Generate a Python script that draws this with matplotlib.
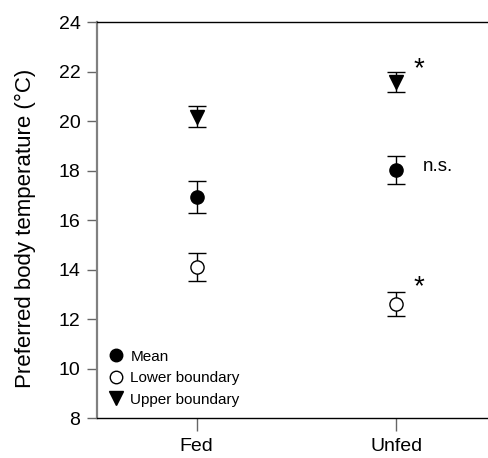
import matplotlib
matplotlib.use("Agg")
import matplotlib.pyplot as plt
from matplotlib.lines import Line2D

plt.rcParams['font.family'] = ['Liberation Sans', 'DejaVu Sans']

groups = ["Fed", "Unfed"]
mean_vals = [16.94, 18.02]
mean_err = [0.65, 0.56]
lower_vals = [14.11, 12.63]
lower_err = [0.55, 0.49]
upper_vals = [20.19, 21.59]
upper_err = [0.43, 0.39]
series_labels = ["Mean", "Lower boundary", "Upper boundary"]
yticks = [8, 10, 12, 14, 16, 18, 20, 22, 24]

W, H = 489, 458
fig = plt.figure(figsize=(W / 100, H / 100), dpi=100)
left, right = 96.7, 496.0
bottom, top = H - 418.3, H - 22.3
ax = fig.add_axes([left / W, bottom / H, (right - left) / W, (top - bottom) / H])

x = [1, 2]
cap = 6.5
common = dict(ecolor='black', elinewidth=1.0, capsize=cap, capthick=1.0, linestyle='none',
              markeredgecolor='black', markeredgewidth=1.0, zorder=3)
ax.errorbar(x, upper_vals, yerr=upper_err, fmt='v', markersize=10, markerfacecolor='black', **common)
ax.errorbar(x, mean_vals, yerr=mean_err, fmt='o', markersize=9.5, markerfacecolor='black', **common)
ax.errorbar(x, lower_vals, yerr=lower_err, fmt='o', markersize=9.5, markerfacecolor='white', **common)

ax.set_xlim(0.5, 2.5)
ax.set_ylim(8, 24)
ax.set_xticks(x)
ax.set_xticklabels(groups)
ax.set_yticks(yticks)
ax.set_yticklabels([str(t) for t in yticks])
ax.tick_params(axis='both', direction='out', length=7.2, width=1.0, color='#666666',
               labelsize=14, pad=4.5)
ax.tick_params(axis='x', length=9, pad=5)

ax.spines['right'].set_visible(False)
ax.spines['left'].set_color('#808080')
ax.spines['left'].set_linewidth(1.6)
ax.spines['bottom'].set_color('black')
ax.spines['top'].set_color('black')
ax.spines['bottom'].set_linewidth(1.0)
ax.spines['top'].set_linewidth(1.0)

ax.set_ylabel("Preferred body temperature (°C)", fontsize=16)
ax.yaxis.set_label_coords(-0.152, 0.48)

handles = [
    Line2D([], [], marker='o', linestyle='none', markersize=9, markerfacecolor='black', markeredgecolor='black'),
    Line2D([], [], marker='o', linestyle='none', markersize=9, markerfacecolor='white', markeredgecolor='black'),
    Line2D([], [], marker='v', linestyle='none', markersize=9.5, markerfacecolor='black', markeredgecolor='black'),
]
ax.legend(handles, series_labels, loc='lower left', bbox_to_anchor=(0.0, 0.0), frameon=False,
          fontsize=11, handlelength=1.0, handletextpad=0.45, labelspacing=0.5, borderaxespad=0.35)

ax.annotate("*", xy=(2, upper_vals[1]), xytext=(23, 13), textcoords='offset pixels',
            ha='center', va='center', fontsize=20)
ax.annotate("n.s.", xy=(2, mean_vals[1]), xytext=(27, 4), textcoords='offset pixels',
            ha='left', va='center', fontsize=13.5)
ax.annotate("*", xy=(2, lower_vals[1]), xytext=(23, 17), textcoords='offset pixels',
            ha='center', va='center', fontsize=20)

fig.savefig("out.png", dpi=100)
